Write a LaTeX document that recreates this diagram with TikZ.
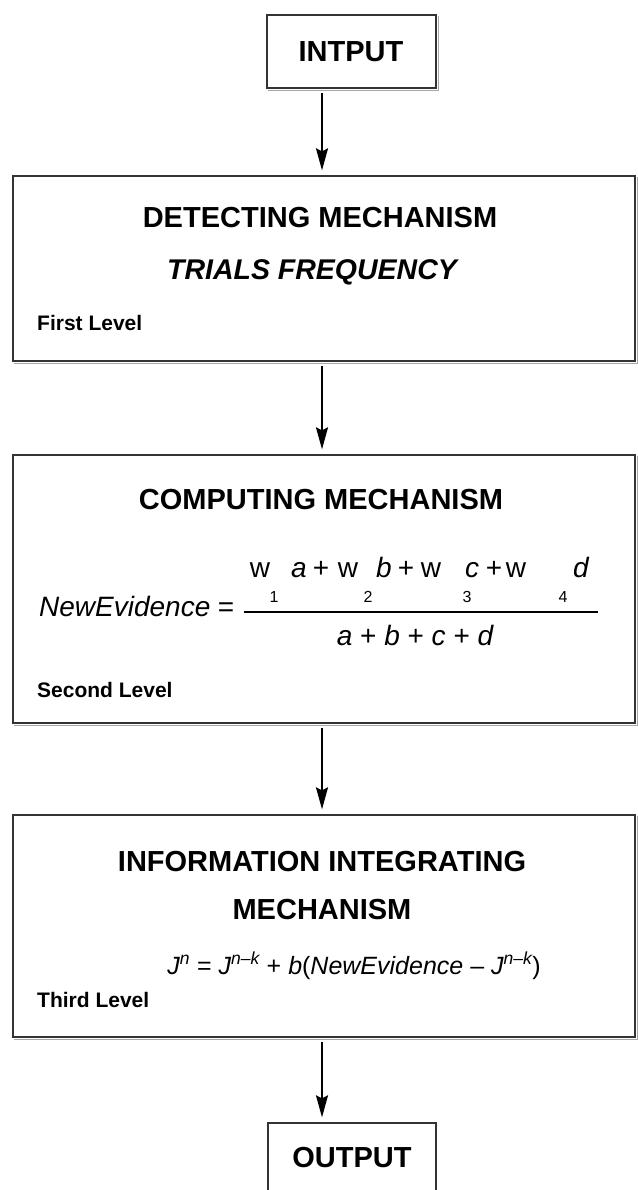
\documentclass[tikz,border=0pt]{standalone}
\usepackage{fontspec}
\setmainfont{Liberation Sans}
\usetikzlibrary{arrows.meta}
\newcommand{\fs}[1]{\fontsize{#1}{#1}\selectfont}
\begin{document}
\begin{tikzpicture}[x=1pt,y=-1pt,
  box/.style={draw=black!80, line width=1.3pt, inner sep=0pt},
  shade/.style={draw=black!35, line width=1.2pt},
  head/.style={font=\fs{29}\bfseries, inner sep=0pt},
  sub/.style={font=\fs{28.5}\bfseries\itshape, inner sep=0pt},
  lvl/.style={font=\fs{21}\bfseries, inner sep=0pt, anchor=west},
  eq/.style={font=\fs{28}, inner sep=0pt, anchor=base},
  idx/.style={font=\fs{16}, inner sep=0pt, anchor=base},
  flow/.style={line width=2pt, -{Stealth[length=22pt,width=12pt,inset=3pt]}, shorten >=5pt, shorten <=4pt}]
\useasboundingbox (0,0) rectangle (637,1190);

% boxes (drawn as empty framed nodes)
\node[box, minimum width=169pt, minimum height=73pt] (in)  at (351.5,51.5) {};
\node[box, minimum width=622pt, minimum height=185pt] (l1) at (324,268.5) {};
\node[box, minimum width=622pt, minimum height=268pt] (l2) at (324,589) {};
\node[box, minimum width=622pt, minimum height=222pt] (l3) at (324,926) {};
\node[box, minimum width=168pt, minimum height=73pt] (out) at (352,1159.5) {};

% light shadow along the right and bottom sides
\foreach \b in {in,l1,l2,l3}{
  \draw[shade] ([xshift=1.5pt,yshift=-1.5pt]\b.north east) -- ([xshift=1.5pt,yshift=-1.5pt]\b.south east)
               -- ([xshift=1.5pt,yshift=-1.5pt]\b.south west);
}

% box texts
\node[head] (tin) at (351,52) {INTPUT};

\node[head] (t1) at (320,218) {DETECTING MECHANISM};
\node[sub]  (s1) at (312,272) {TRIALS FREQUENCY};
\node[lvl]  (v1) at (37,323) {First Level};

\node[head] (t2) at (321,500) {COMPUTING MECHANISM};
\node[eq, anchor=base west] (ne) at (39,616) {\itshape NewEvidence};
\node[eq] (eqs) at (226,616) {=};
\foreach \x/\t [count=\i] in {260/w, 299/\itshape a, 321/+, 348/w, 384/\itshape b, 406/+,
                             431/w, 472/\itshape c, 494/+, 516/w, 581/\itshape d}
  \node[eq] (num\i) at (\x,577) {\t};
\foreach \x [count=\i] in {274,368,467,563}
  \node[idx] (w\i) at (\x,602) {\i};
\coordinate (fl) at (244,612);
\coordinate (fr) at (598,612);
\draw[line width=1.3pt] (fl) -- (fr);
\node[eq] (den) at (415,645) {\itshape a \upshape+ \itshape b \upshape+ \itshape c \upshape+ \itshape d};
\node[lvl]  (v2) at (37,690) {Second Level};

\node[head] (t3a) at (322,862) {INFORMATION INTEGRATING};
\node[head] (t3b) at (322,910) {MECHANISM};
\node[eq, font=\fs{25}] (jeq) at (354,974) {\itshape J\textsuperscript{n}\upshape\ =\ \itshape J\textsuperscript{n–k}\upshape\ +\ \itshape b\upshape(\itshape NewEvidence\upshape\ –\ \itshape J\textsuperscript{n–k}\upshape)};
\node[lvl]  (v3) at (37,1000) {Third Level};

\node[head] (tout) at (352,1158) {OUTPUT};

% connectors
\draw[flow] (322,0 |- in.south) -- (322,0 |- l1.north);
\draw[flow] (322,0 |- l1.south) -- (322,0 |- l2.north);
\draw[flow] (322,0 |- l2.south) -- (322,0 |- l3.north);
\draw[flow] (322,0 |- l3.south) -- (322,0 |- out.north);
\end{tikzpicture}
\end{document}
